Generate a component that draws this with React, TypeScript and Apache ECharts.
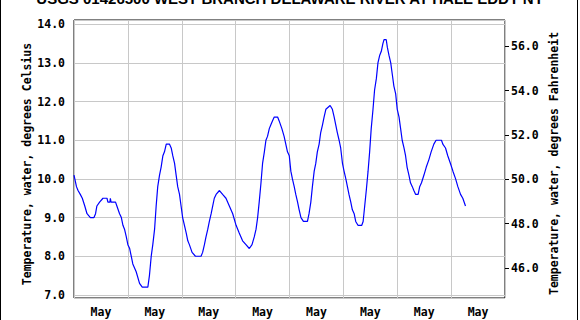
import React, { useEffect, useRef } from "react";
import * as echarts from "echarts";

const titleText = "USGS 01426500 WEST BRANCH DELAWARE RIVER AT HALE EDDY NY";
const leftAxisName = "Temperature, water, degrees Celsius";
const rightAxisName = "Temperature, water, degrees Fahrenheit";
const dayLabels = ["May", "May", "May", "May", "May", "May", "May", "May"];
const fahrenheitTicks = [46, 48, 50, 52, 54, 56];

// hours since start of first day
const hours = [
  0, 1.1, 1.8, 2.8, 3.7, 4.8, 5.8, 7.3, 8.9, 9.6, 10.2, 11.4, 12.9, 14.7, 15.1, 16.0, 16.2, 16.5, 18.5, 19.1,
  20.3, 21.1, 21.8, 22.5, 23.3, 24.0, 24.8, 25.5, 26.2, 27.7, 29.2, 30.4, 32.9, 33.6, 34.4, 35.1, 35.9, 36.6,
  37.3, 38.1, 38.8, 39.6, 40.3, 41.1, 42.5, 43.3, 44.0, 44.8, 45.5, 46.2, 47.0, 47.7, 48.4, 49.2, 50.0, 50.7,
  51.4, 52.6, 54.1, 56.6, 57.3, 58.1, 58.8, 59.6, 60.3, 61.1, 61.8, 62.5, 63.3, 64.8, 66.2, 67.7, 69.2, 70.7,
  72.2, 73.6, 75.1, 76.6, 78.1, 79.3, 80.3, 81.1, 81.8, 82.5, 83.3, 84.0, 84.8, 85.5, 86.2, 87.0, 87.7, 88.4,
  89.2, 90.7, 91.4, 92.6, 93.6, 95.1, 95.9, 96.6, 97.3, 98.1, 98.8, 99.6, 100.3, 101.1, 102.2, 104.0, 104.7,
  105.5, 106.2, 107.0, 107.7, 108.4, 109.2, 109.9, 110.7, 111.4, 112.2, 114.1, 115.1, 115.9, 116.6, 117.3,
  118.1, 118.8, 119.6, 120.3, 121.1, 121.8, 122.5, 123.3, 124.0, 124.8, 125.5, 126.5, 128.2, 128.8, 129.5,
  130.2, 131.0, 131.7, 132.4, 133.2, 133.9, 134.7, 135.4, 136.2, 136.9, 137.6, 138.1, 139.1, 139.6, 140.3,
  141.1, 141.8, 142.5, 143.3, 144.0, 144.8, 145.5, 146.2, 147.0, 147.7, 148.4, 149.2, 149.9, 150.7, 151.4,
  152.2, 153.3, 154.0, 154.8, 155.9, 156.9, 158.1, 159.1, 160.3, 161.3, 163.7, 164.3, 165.5, 166.5, 167.7,
  168.8, 170.0, 171.0, 172.2, 173.2, 174.4,
];

const tempC = [
  10.1, 9.8, 9.7, 9.6, 9.5, 9.3, 9.1, 9.0, 9.0, 9.1, 9.3, 9.4, 9.5, 9.5, 9.4, 9.4, 9.5, 9.4, 9.4, 9.3,
  9.1, 9.0, 8.8, 8.7, 8.5, 8.3, 8.2, 8.0, 7.8, 7.6, 7.3, 7.2, 7.2, 7.5, 8.0, 8.3, 8.7, 9.3,
  9.8, 10.1, 10.3, 10.6, 10.7, 10.9, 10.9, 10.8, 10.6, 10.4, 10.1, 9.8, 9.6, 9.3, 9.0, 8.8, 8.6, 8.4,
  8.3, 8.1, 8.0, 8.0, 8.1, 8.3, 8.5, 8.7, 8.9, 9.1, 9.3, 9.5, 9.6, 9.7, 9.6, 9.5, 9.3, 9.1,
  8.8, 8.6, 8.4, 8.3, 8.2, 8.3, 8.5, 8.7, 9.0, 9.4, 9.9, 10.4, 10.7, 11.0, 11.1, 11.3, 11.4, 11.5,
  11.6, 11.6, 11.5, 11.3, 11.1, 10.7, 10.6, 10.2, 10.0, 9.8, 9.6, 9.4, 9.2, 9.0, 8.9, 8.9, 9.1,
  9.4, 9.8, 10.2, 10.4, 10.7, 10.9, 11.2, 11.4, 11.6, 11.8, 11.9, 11.8, 11.6, 11.4, 11.2,
  11.0, 10.8, 10.4, 10.2, 10.0, 9.8, 9.6, 9.4, 9.2, 9.1, 8.9, 8.8, 8.8, 8.9, 9.3,
  9.7, 10.2, 10.7, 11.3, 11.8, 12.3, 12.6, 13.0, 13.2, 13.3, 13.5, 13.6, 13.6, 13.4, 13.2,
  13.0, 12.7, 12.4, 12.2, 11.8, 11.6, 11.3, 11.0, 10.8, 10.6, 10.3, 10.1, 9.9, 9.8, 9.7,
  9.6, 9.6, 9.8, 9.9, 10.1, 10.3, 10.5, 10.7, 10.9, 11.0, 11.0, 10.9, 10.8, 10.6, 10.4,
  10.2, 10.0, 9.8, 9.6, 9.5, 9.3,
];

const MONO = "'DejaVu Sans Mono', monospace";

export default function App() {
  const ref = useRef<HTMLDivElement>(null);
  useEffect(() => {
    if (!ref.current) return;
    const chart = echarts.init(ref.current, null, { renderer: "svg" });
    const labelStyle = { fontFamily: MONO, fontWeight: "bold" as const, fontSize: 11.5, color: "#000" };
    chart.setOption({
      animation: false,
      backgroundColor: "#fff",
      title: {
        text: titleText,
        left: "center",
        top: -14,
        textStyle: { fontFamily: "'Liberation Sans', Arial, sans-serif", fontWeight: "bold", fontSize: 15, color: "#000" },
      },
      grid: {
        left: 74,
        right: 75,
        top: 20,
        bottom: 22,
        show: true,
        borderColor: "#000",
        borderWidth: 1,
        backgroundColor: "transparent",
        containLabel: false,
      },
      xAxis: [
        {
          type: "value",
          min: 0,
          max: 192,
          interval: 24,
          axisLine: { show: false },
          axisTick: { show: false },
          axisLabel: { show: false },
          splitLine: { show: true, lineStyle: { color: "#c8c8c8", width: 1 } },
        },
        {
          type: "category",
          position: "bottom",
          data: dayLabels,
          boundaryGap: true,
          axisLine: { show: false },
          axisTick: { show: false },
          splitLine: { show: false },
          axisLabel: { ...labelStyle, margin: 8, interval: 0 },
        },
      ],
      yAxis: [
        {
          type: "value",
          position: "left",
          min: 6.92,
          max: 14.11,
          minInterval: 1,
          maxInterval: 1,
          axisLine: { show: false },
          axisTick: { show: false },
          splitLine: { show: true, lineStyle: { color: "#c8c8c8", width: 1 } },
          axisLabel: {
            ...labelStyle,
            margin: 9,
            formatter: (v: number) => (Math.abs(v - Math.round(v)) < 1e-6 ? v.toFixed(1) : ""),
          },
        },
        {
          type: "value",
          position: "right",
          min: 44.65,
          max: 57.19,
          axisLine: { show: false },
          axisTick: { show: true, length: 4, customValues: fahrenheitTicks, lineStyle: { color: "#000", width: 1 } },
          splitLine: { show: false },
          axisLabel: {
            ...labelStyle,
            margin: 6,
            customValues: fahrenheitTicks,
            formatter: (v: number) => v.toFixed(1),
          },
        },
      ],
      graphic: [
        {
          type: "rect",
          shape: { x: 0.5, y: -10, width: 577, height: 340 },
          style: { fill: "none", stroke: "#000", lineWidth: 1 },
          silent: true,
        },
        {
          type: "text",
          x: 27,
          y: 164,
          rotation: Math.PI / 2,
          style: { text: leftAxisName, textAlign: "center", textVerticalAlign: "middle", font: `bold 11.5px ${MONO}`, fill: "#000" },
        },
        {
          type: "text",
          x: 554,
          y: 163.5,
          rotation: Math.PI / 2,
          style: { text: rightAxisName, textAlign: "center", textVerticalAlign: "middle", font: `bold 11.5px ${MONO}`, fill: "#000" },
        },
      ],
      series: [
        {
          type: "line",
          xAxisIndex: 0,
          yAxisIndex: 0,
          data: hours.map((h, i) => [h, tempC[i]]),
          showSymbol: false,
          lineStyle: { color: "#0000ff", width: 1.2 },
          itemStyle: { color: "#0000ff" },
        },
      ],
    });
    return () => chart.dispose();
  }, []);
  return (
    <div style={{ position: "absolute", left: 0, top: 0, width: 580, height: 320, background: "#fff" }}>
      <div ref={ref} style={{ width: 580, height: 320 }} />
    </div>
  );
}
